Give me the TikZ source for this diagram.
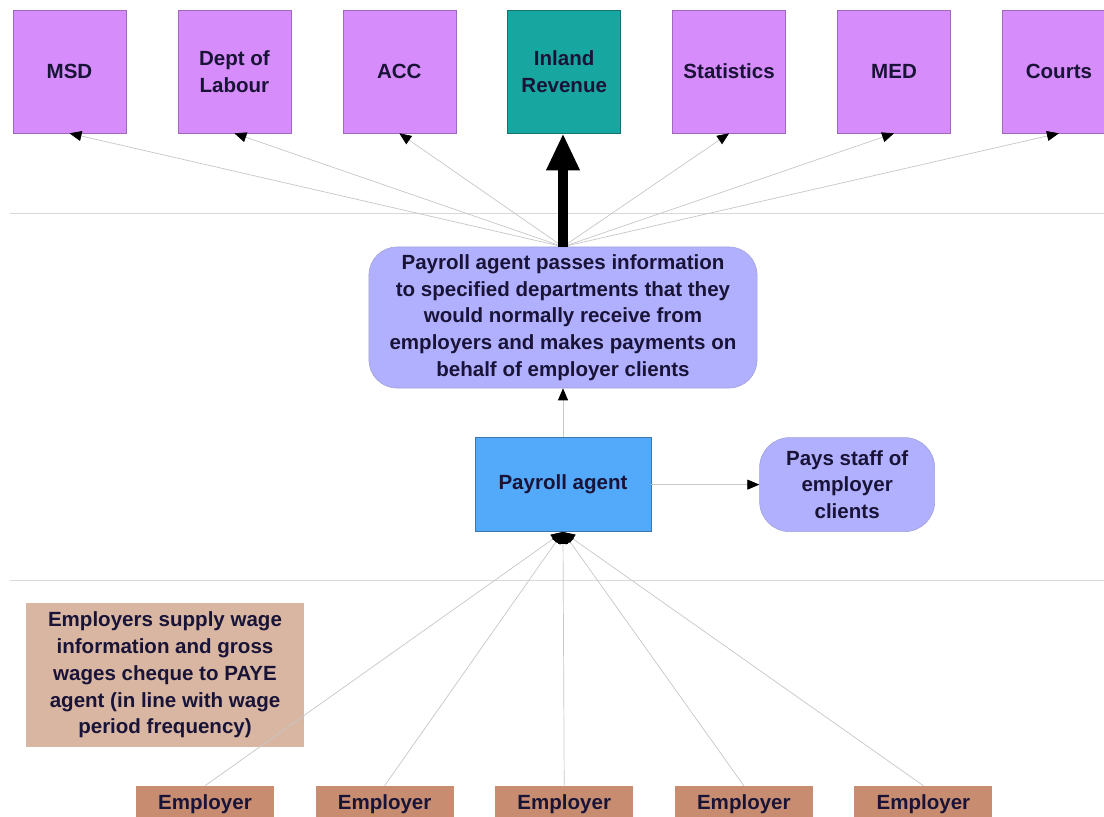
\documentclass[tikz,border=0pt]{standalone}
\usepackage{fontspec}
\setmainfont{Liberation Sans}
\usetikzlibrary{positioning,arrows.meta}

\definecolor{deptfill}{RGB}{214,140,250}
\definecolor{deptline}{RGB}{160,105,190}
\definecolor{irdfill}{RGB}{24,166,160}
\definecolor{infofill}{RGB}{176,176,255}
\definecolor{agentfill}{RGB}{84,170,250}
\definecolor{notefill}{RGB}{216,182,162}
\definecolor{empfill}{RGB}{200,140,112}
\definecolor{inkcol}{RGB}{25,20,55}

\tikzset{
  txt/.style={font=\fontsize{14.6}{19}\selectfont\bfseries, text=inkcol, align=center},
  dept/.style={txt, fill=deptfill, draw=deptline, line width=0.4pt, minimum width=2.825cm, minimum height=3.075cm},
  info/.style={txt, fill=infofill, draw=infofill!70!gray, line width=0.4pt, rounded corners=0.7cm, minimum width=9.7cm, minimum height=3.525cm},
  agent/.style={txt, fill=agentfill, draw=agentfill!70!black, line width=0.4pt, minimum width=4.4cm, minimum height=2.35cm},
  pays/.style={txt, fill=infofill, draw=infofill!70!gray, line width=0.4pt, rounded corners=0.75cm, minimum width=4.375cm, minimum height=2.35cm},
  note/.style={txt, fill=notefill, minimum width=6.95cm, minimum height=3.6cm},
  employer/.style={txt, fill=empfill, minimum width=3.45cm, minimum height=0.9cm},
  feed/.style={draw=black!22, line width=0.5pt, -{Triangle[length=0.3cm, width=0.25cm, black]}},
  sep/.style={draw=black!15, line width=0.6pt}
}

\begin{document}
\begin{tikzpicture}[x=0.025cm, y=-0.025cm, node distance=1.225cm and 1.2825cm]

    \clip (0,0) rectangle (1104,816);
    \fill[white] (0,0) rectangle (1104,816);

    \draw[sep] (10,213) -- (1104,213);
    \draw[sep] (10,580) -- (1104,580);

    \node[dept]                            (msd)    at (69.5,71.5) {MSD};
    \node[dept, right=of msd]              (dol)    {Dept of\\Labour};
    \node[dept, right=of dol]              (acc)    {ACC};
    \node[dept, right=of acc, fill=irdfill, draw=irdfill!70!black] (ird) {Inland\\Revenue};
    \node[dept, right=of ird]              (stats)  {Statistics};
    \node[dept, right=of stats]            (med)    {MED};
    \node[dept, right=of med]              (courts) {Courts};

    \node[info] (info) at (563,317.5) {Payroll agent passes information\\to specified departments that they\\would normally receive from\\employers and makes payments on\\behalf of employer clients};
    \node[agent, below=of info]            (agent)  {Payroll agent};
    \node[pays, right=2.7cm of agent]      (pays)   {Pays staff of\\employer\\clients};

    \node[note] (supply) at (165,675) {Employers supply wage\\information and gross\\wages cheque to PAYE\\agent (in line with wage\\period frequency)};

    \node[employer]                        (emp1)   at (205,804) {Employer};
    \node[employer, right=1.025cm of emp1] (emp2)   {Employer};
    \node[employer, right=1.025cm of emp2] (emp3)   {Employer};
    \node[employer, right=1.025cm of emp3] (emp4)   {Employer};
    \node[employer, right=1.025cm of emp4] (emp5)   {Employer};

    \foreach \d in {msd,dol,acc,stats,med,courts}
        \draw[feed] (info.north) -- (\d.south);
    \draw[line width=0.25cm, -{Triangle[length=0.925cm, width=0.775cm]}] (info.north) -- (info.north |- ird.south);

    \draw[feed] (agent.north) -- (info.south);
    \draw[feed] (agent.east) -- (pays.west);

    \foreach \e in {emp1,emp2,emp3,emp4,emp5}
        \draw[feed] (\e.north) -- (agent.south);

\end{tikzpicture}
\end{document}
